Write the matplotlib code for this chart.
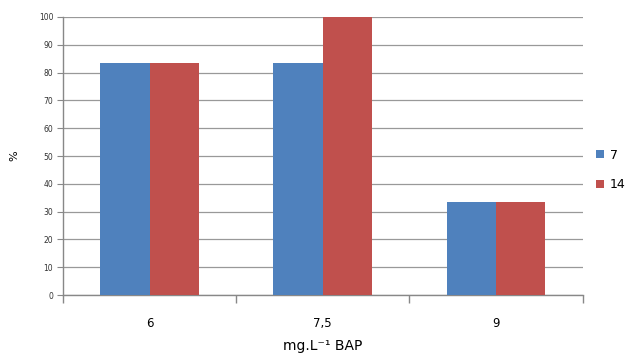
import numpy as np
import matplotlib.pyplot as plt

categories = ["6", "7,5", "9"]
series_7 = [83.3, 83.3, 33.3]
series_14 = [83.3, 100.0, 33.3]
series_names = ["7", "14"]

fig = plt.figure(figsize=(6.32, 3.53), dpi=100)
ax = fig.add_axes([0.0997, 0.164, 0.822, 0.788])

x = np.arange(len(categories))
w = 0.285
ax.bar(x - w / 2, series_7, w, color="#4f81bd", label=series_names[0], zorder=3)
ax.bar(x + w / 2, series_14, w, color="#c0504d", label=series_names[1], zorder=3)

ax.set_xlim(-0.5, len(categories) - 0.5)
ax.set_ylim(0, 100)
ax.set_yticks(np.arange(0, 101, 10))
ax.tick_params(axis="y", labelsize=5.5, length=4, color="#888888", colors="#333333", pad=3)
ax.yaxis.grid(True, color="#999999", linewidth=0.9, zorder=0)

# category ticks at the boundaries, labels in the middle
ax.set_xticks(np.arange(-0.5, len(categories), 1))
ax.set_xticklabels([])
ax.set_xticks(x, minor=True)
ax.set_xticklabels(categories, minor=True, fontsize=8.5)
ax.tick_params(axis="x", which="major", length=6, color="#888888", width=1)
ax.tick_params(axis="x", which="minor", length=0, pad=16)

for s in ["top", "right"]:
    ax.spines[s].set_visible(False)
for s in ["left", "bottom"]:
    ax.spines[s].set_color("#888888")
    ax.spines[s].set_linewidth(1)

ax.set_ylabel("%", fontsize=8, labelpad=14)
ax.set_xlabel("mg.L\u207b\u00b9 BAP", fontsize=10, labelpad=6)

ax.legend(loc="center left", bbox_to_anchor=(1.005, 0.45), frameon=False,
          fontsize=9, handlelength=0.6, handleheight=0.6, labelspacing=1.3,
          handletextpad=0.5)

plt.savefig("out.png", dpi=100)
